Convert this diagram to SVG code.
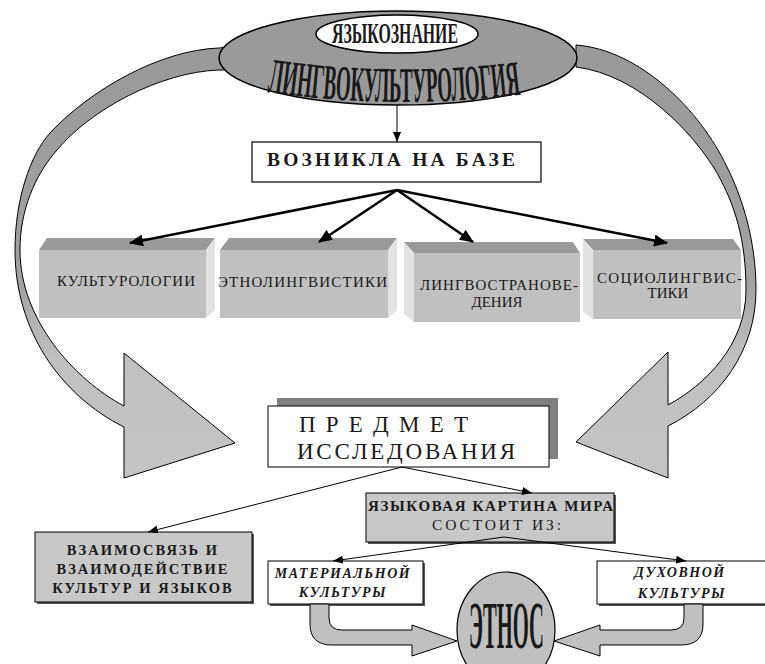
<svg xmlns="http://www.w3.org/2000/svg" width="765" height="664" viewBox="0 0 765 664">
<defs>
<linearGradient id="band" gradientUnits="userSpaceOnUse" x1="0" y1="40" x2="0" y2="480">
<stop offset="0" stop-color="#999"/>
<stop offset="0.55" stop-color="#a2a2a2"/>
<stop offset="0.72" stop-color="#c0c0c0"/>
<stop offset="1" stop-color="#c4c4c4"/>
</linearGradient>
<marker id="ah" markerUnits="userSpaceOnUse" markerWidth="14" markerHeight="12" refX="13" refY="6" orient="auto"><path d="M0,0 L14,6 L0,12 Z" fill="#000"/></marker>
<marker id="as" markerUnits="userSpaceOnUse" markerWidth="10" markerHeight="8" refX="10" refY="4" orient="auto"><path d="M0,0 L10,4 L0,8 Z" fill="#000"/></marker>
<path id="arcText" d="M267,92 Q395,111 526,94" fill="none"/>
</defs>
<style>
.t{font-family:"Liberation Serif","Times New Roman",serif;fill:#1a1a1a}
.b{font-weight:bold}
.bi{font-weight:bold;font-style:italic}
.c{text-anchor:middle}
.topf{fill:#9a9a9a}
.front{fill:#c0c0c0}
.side{fill:#e2e2e2}
.band{fill:url(#band);stroke:#000;stroke-width:1}
.blk{fill:#c0c0c0;stroke:#000;stroke-width:1}
.thick{stroke:#000;stroke-width:2.5;fill:none;marker-end:url(#ah)}
.thin{stroke:#000;stroke-width:1;fill:none;marker-end:url(#as)}
.box{stroke:#000;stroke-width:1.2}
</style>

<g id="voznikla">
<rect x="252" y="142" width="289" height="40" fill="#fff" class="box" stroke-width="1.5"/>
<text class="t b" x="267" y="166" font-size="19.5" textLength="248" fill="#000">ВОЗНИКЛА НА БАЗЕ</text>
</g>

<g id="kulturologii">
<polygon class="topf" points="39,250 47,238 215,238 206,250"/>
<polygon class="side" points="206,250 215,238 215,310 206,318"/>
<rect class="front" x="39" y="250" width="167" height="68"/>
<text class="t" x="57" y="286" font-size="15" textLength="138">КУЛЬТУРОЛОГИИ</text>
</g>

<g id="etnolingvistiki">
<polygon class="topf" points="220,250 229,238 397,238 388,250"/>
<polygon class="side" points="388,250 397,238 397,310 388,318"/>
<rect class="front" x="220" y="250" width="168" height="68"/>
<text class="t" x="218" y="287" font-size="15" textLength="169">ЭТНОЛИНГВИСТИКИ</text>
</g>

<g id="lingvostranovedenia">
<polygon class="topf" points="404,242 573,242 580,253 414,253"/>
<polygon class="side" points="404,242 414,253 414,322 404,314"/>
<rect class="front" x="414" y="253" width="166" height="69"/>
<text class="t" x="420" y="290" font-size="15" textLength="158">ЛИНГВОСТРАНОВЕ-</text>
<text class="t c" x="497" y="307" font-size="15">ДЕНИЯ</text>
</g>

<g id="sociolingvistiki">
<polygon class="topf" points="583,239 733,239 741,250 593,250"/>
<polygon class="side" points="583,239 593,250 593,319 583,312"/>
<rect class="front" x="593" y="250" width="148" height="69"/>
<text class="t" x="597" y="283" font-size="15" textLength="145">СОЦИОЛИНГВИС-</text>
<text class="t c" x="668" y="298" font-size="15">ТИКИ</text>
</g>

<g id="predmet">
<rect x="277" y="398" width="281" height="61" fill="#808080"/>
<rect x="268" y="406" width="281" height="61" fill="#fff" stroke="#000" stroke-width="1"/>
<text class="t" x="299" y="432" font-size="23" textLength="169">ПРЕДМЕТ</text>
<text class="t" x="297" y="459" font-size="23" textLength="218">ИССЛЕДОВАНИЯ</text>
</g>

<g id="vzaimosvyaz">
<rect x="37" y="534" width="217" height="70" fill="#555"/>
<rect x="35" y="532" width="217" height="70" fill="#c8c8c8" stroke="#000" stroke-width="1"/>
<text class="t b c" x="143" y="555" font-size="14.5" letter-spacing="2">ВЗАИМОСВЯЗЬ И</text>
<text class="t b c" x="143" y="574" font-size="14.5" letter-spacing="2">ВЗАИМОДЕЙСТВИЕ</text>
<text class="t b c" x="143" y="593" font-size="14.5" letter-spacing="2">КУЛЬТУР И ЯЗЫКОВ</text>
</g>

<g id="kartina">
<rect x="368" y="495" width="248" height="49" fill="#555"/>
<rect x="366" y="493" width="248" height="49" fill="#c8c8c8" stroke="#000" stroke-width="1"/>
<text class="t b" x="368" y="511" font-size="15" textLength="245" fill="#000">ЯЗЫКОВАЯ КАРТИНА МИРА</text>
<text class="t" x="432" y="530" font-size="15.5" textLength="129">СОСТОИТ  ИЗ:</text>
</g>

<g id="materialnoy">
<rect x="270" y="563" width="155" height="43" fill="#555"/>
<rect x="268" y="561" width="155" height="43" fill="#fff" stroke="#000" stroke-width="1"/>
<text class="t bi c" x="343" y="578" font-size="14" letter-spacing="1.5" fill="#000">МАТЕРИАЛЬНОЙ</text>
<text class="t bi c" x="343" y="597" font-size="14" letter-spacing="1.5" fill="#000">КУЛЬТУРЫ</text>
</g>

<g id="duhovnoy">
<rect x="599" y="563" width="175" height="43" fill="#555"/>
<rect x="597" y="561" width="175" height="43" fill="#fff" stroke="#000" stroke-width="1"/>
<text class="t bi c" x="680" y="577" font-size="14" letter-spacing="1.5" fill="#000">ДУХОВНОЙ</text>
<text class="t bi c" x="682" y="598" font-size="14" letter-spacing="1.5" fill="#000">КУЛЬТУРЫ</text>
</g>

<g id="connectors">
<path class="band" d="M240,46 L219,48 C160,50 90,90 50,133 C30,155 15,200 15,250 C15,330 60,395 124,427 L124,478 L235,443 L124,353 L124,406 C75,380 20,320 20,250 C20,210 35,175 57,150 C90,110 160,72 219,70 L240,70 Z"/>
<path class="band" d="M576,45 C640,50 700,110 727,167 C742,197 756,240 756,290 C756,350 720,400 668,426 L668,478 L576,442 L668,352 L668,405 C705,385 746,345 746,290 C746,240 735,205 717,173 C695,135 640,75 576,67 Z"/>
<line class="thin" x1="397" y1="105" x2="397" y2="142"/>
<line class="thick" x1="397" y1="190" x2="130" y2="243"/>
<line class="thick" x1="397" y1="190" x2="319" y2="242"/>
<line class="thick" x1="397" y1="190" x2="473" y2="242"/>
<line class="thick" x1="397" y1="190" x2="667" y2="243"/>
<line class="thin" x1="402" y1="467" x2="148" y2="532"/>
<line class="thin" x1="402" y1="467" x2="532" y2="493"/>
<line class="thin" x1="504" y1="537" x2="333" y2="561"/>
<line class="thin" x1="504" y1="537" x2="686" y2="561"/>
<path class="blk" d="M310,604 L310,624 Q310,645 332,645 L412,645 L412,656 L457,641 L412,625 L412,630 L342,630 Q329,630 329,618 L329,604 Z"/>
<path class="blk" d="M703,604 L703,624 Q703,645 681,645 L600,645 L600,656 L554,641 L600,625 L600,630 L671,630 Q684,630 684,618 L684,604 Z"/>
</g>

<g id="etnos">
<ellipse cx="506" cy="630" rx="49" ry="58" fill="#c0c0c0" stroke="#000" stroke-width="1.2"/>
<text class="t b" x="469" y="648" font-size="68" textLength="75" lengthAdjust="spacingAndGlyphs" fill="#000">ЭТНОС</text>
</g>

<g id="lingvokulturologia">
<ellipse cx="398" cy="58" rx="179" ry="47" fill="#9a9a9a" stroke="#000" stroke-width="1.5"/>
<ellipse cx="397" cy="34" rx="81" ry="19" fill="#fff" stroke="#000" stroke-width="1.5"/>
<text class="t b" x="332" y="43" font-size="30" textLength="126" lengthAdjust="spacingAndGlyphs" fill="#000">ЯЗЫКОЗНАНИЕ</text>
<text class="t b" font-size="50" fill="#000" textLength="255" lengthAdjust="spacingAndGlyphs"><textPath href="#arcText">ЛИНГВОКУЛЬТУРОЛОГИЯ</textPath></text>
</g>
</svg>
